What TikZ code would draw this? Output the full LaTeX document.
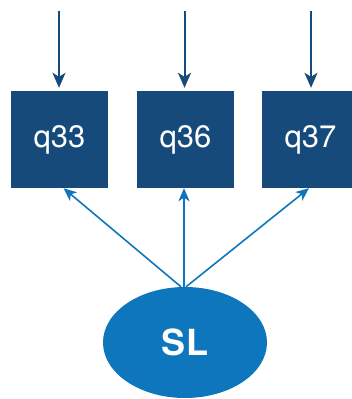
\documentclass[tikz,border=0pt]{standalone}
\usepackage{fontspec}
\setmainfont{TeX Gyre Heros}
\usetikzlibrary{arrows.meta,shapes.geometric}
\definecolor{boxblue}{RGB}{22,74,122}
\definecolor{latblue}{RGB}{14,118,188}
\begin{document}
\begin{tikzpicture}[x=1pt,y=-1pt,
  obs/.style={draw=none,fill=boxblue,minimum size=97pt,inner sep=0pt,text=white,font=\fontsize{31}{31}\selectfont},
  lat/.style={ellipse,fill=latblue,minimum width=164pt,minimum height=111pt,inner sep=0pt,text=white,font=\bfseries\fontsize{36}{36}\selectfont},
  errarrow/.style={draw=boxblue,line width=2pt,-{Stealth[length=15pt,width=13pt,inset=4pt]},shorten >=3pt},
  loadarrow/.style={draw=latblue,line width=1.6pt,-{Stealth[length=13pt,width=11pt,inset=3.5pt]}}]
\useasboundingbox (0,0) rectangle (352,399);
\clip (0,0) rectangle (352,399);
\node[obs] (q33) at (59.5,139.5) {q33};
\node[obs] (q36) at (185.5,139.5) {q36};
\node[obs] (q37) at (310.5,139.5) {q37};
\node[lat] (SL) at (185,342.5) {SL};
\coordinate (e33) at (59,11);
\coordinate (e36) at (184.5,11);
\coordinate (e37) at (311,11);
\draw[errarrow] (e33) -- (q33.north -| e33);
\draw[errarrow] (e36) -- (q36.north -| e36);
\draw[errarrow] (e37) -- (q37.north -| e37);
\draw[loadarrow] ([xshift=-4pt]SL.north) -- ([xshift=4pt]q33.south);
\draw[loadarrow] ([xshift=-1pt]SL.north) -- ([xshift=-1.5pt]q36.south);
\draw[loadarrow] ([xshift=1pt]SL.north) -- ([xshift=-1.5pt]q37.south);
\end{tikzpicture}
\end{document}
